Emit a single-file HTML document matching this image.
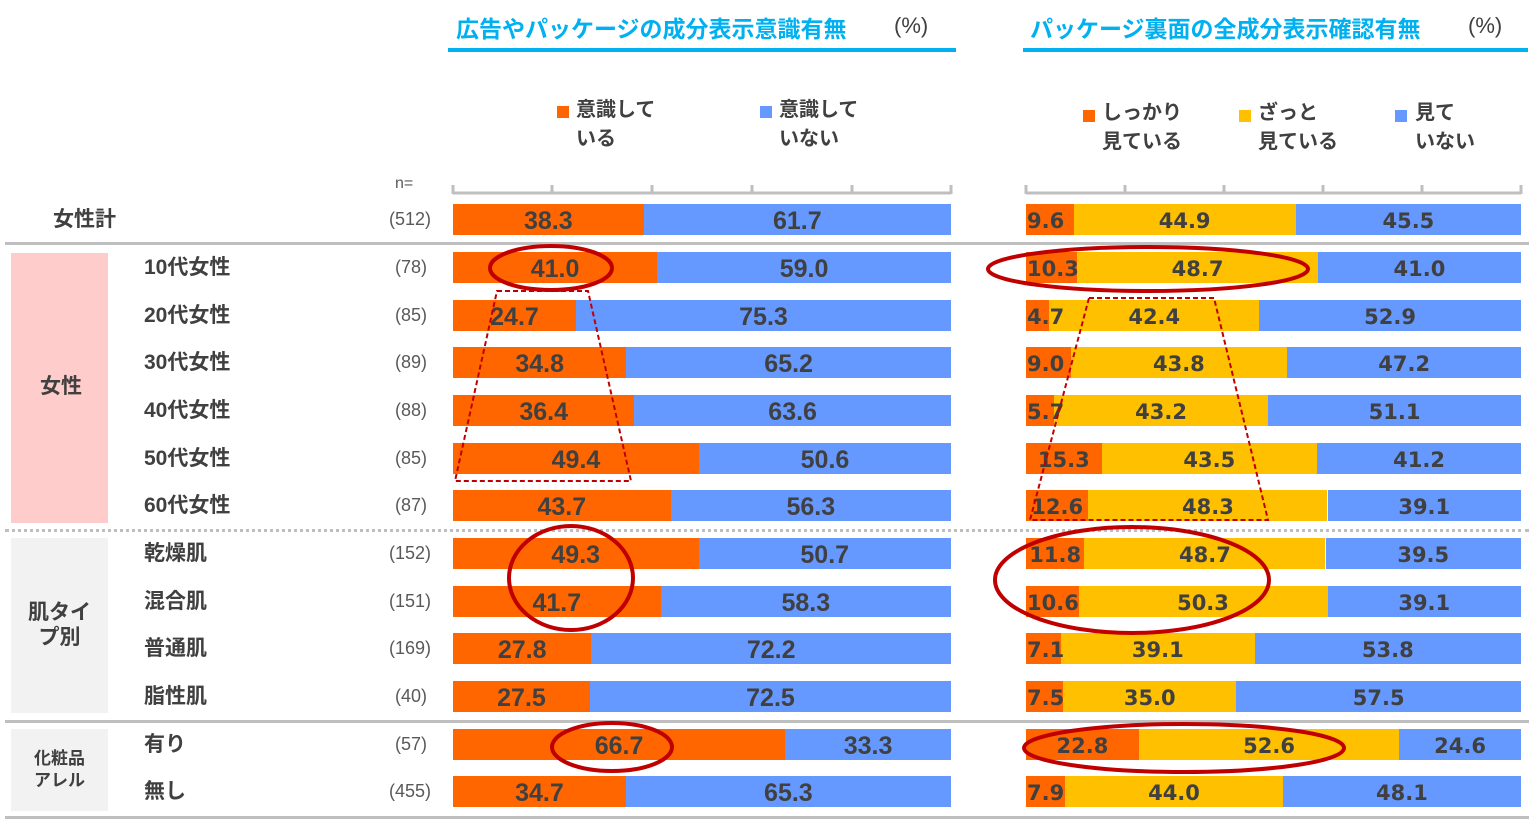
<!DOCTYPE html>
<html><head><meta charset="utf-8">
<style>
body{margin:0;width:1531px;height:820px;background:#fff;position:relative;overflow:hidden;font-family:"Liberation Sans","Noto Sans CJK JP",sans-serif;color:#404040}
.a{position:absolute}
.t{font-weight:bold;color:#00b0f0;font-size:23px;white-space:nowrap}
.lg{font-weight:bold;font-size:20px;line-height:29px;white-space:nowrap}
.sq{position:absolute;width:12px;height:12px}
.rl{position:absolute;font-weight:bold;font-size:21px;white-space:nowrap;line-height:24px}
.n{position:absolute;font-size:18px;color:#595959;text-align:right;width:80px;line-height:24px}
.seg{position:absolute;height:31px;line-height:34px;font-weight:bold;color:#404040;text-align:center;white-space:nowrap;overflow:visible}
.L{font-family:"Liberation Sans",sans-serif;font-size:25px}
.R{font-family:"DejaVu Sans",sans-serif;font-size:21px}
</style></head><body>
<div class="a t" style="left:456px;top:10px">広告やパッケージの成分表示意識有無</div>
<div class="a" style="left:894px;top:13px;font-size:22px;color:#404040">(%)</div>
<div class="a" style="left:448px;top:48px;width:508px;height:4px;background:#00b0f0"></div>
<div class="a t" style="left:1030px;top:10px">パッケージ裏面の全成分表示確認有無</div>
<div class="a" style="left:1468px;top:13px;font-size:22px;color:#404040">(%)</div>
<div class="a" style="left:1023px;top:48px;width:505px;height:4px;background:#00b0f0"></div>

<div class="sq" style="left:557px;top:106px;background:#ff6600"></div>
<div class="a lg" style="left:576px;top:96px">意識して<br>いる</div>
<div class="sq" style="left:760px;top:106px;background:#6699ff"></div>
<div class="a lg" style="left:779px;top:96px">意識して<br>いない</div>
<div class="sq" style="left:1083px;top:110px;background:#ff6600"></div>
<div class="a lg" style="left:1102px;top:99px">しっかり<br>見ている</div>
<div class="sq" style="left:1239px;top:110px;background:#ffc000"></div>
<div class="a lg" style="left:1258px;top:99px">ざっと<br>見ている</div>
<div class="sq" style="left:1395px;top:110px;background:#6699ff"></div>
<div class="a lg" style="left:1415px;top:99px">見て<br>いない</div>

<div class="a" style="left:395px;top:175px;font-size:16px;color:#595959">n=</div>

<div class="a" style="left:11px;top:253px;width:97px;height:270px;background:#ffcccc"></div>
<div class="a" style="left:11px;top:538px;width:97px;height:175px;background:#f2f2f2"></div>
<div class="a" style="left:11px;top:729px;width:97px;height:82px;background:#f2f2f2"></div>
<div class="rl" style="left:40px;top:375px">女性</div>
<div class="rl" style="left:11px;width:97px;text-align:center;top:600px;line-height:25px">肌タイ<br>プ別</div>
<div class="rl" style="left:11px;width:97px;text-align:center;top:748px;font-size:17px;line-height:22px">化粧品<br>アレル</div>

<div class="a" style="left:5px;top:242px;width:1524px;height:3px;background:#bfbfbf"></div>
<div class="a" style="left:5px;top:529px;width:1524px;border-top:3px dotted #bfbfbf"></div>
<div class="a" style="left:5px;top:720px;width:1524px;height:3px;background:#bfbfbf"></div>
<div class="a" style="left:5px;top:816px;width:1524px;height:3px;background:#bfbfbf"></div>

<svg class="a" style="left:0;top:0" width="1531" height="820">
<g stroke="#bfbfbf" stroke-width="3" fill="none">
<path d="M453,193H951M453,185V194M552,185V194M652,185V194M752,185V194M852,185V194M951,185V194"/>
<path d="M1026,193H1521M1026,185V194M1125,185V194M1224,185V194M1323,185V194M1422,185V194M1521,185V194"/>
</g>
</svg>

<div id="rows"></div>

<svg class="a" style="left:0;top:0;z-index:5" width="1531" height="820">
<g stroke="#c00000" stroke-width="4" fill="none">
<ellipse cx="551" cy="268" rx="61" ry="22"/>
<ellipse cx="1148" cy="269" rx="160" ry="22"/>
<ellipse cx="571" cy="578" rx="62" ry="52"/>
<ellipse cx="1132" cy="580" rx="137" ry="53"/>
<ellipse cx="612" cy="747" rx="60" ry="24"/>
<ellipse cx="1184" cy="748" rx="160" ry="24"/>
</g>
<g stroke="#c00000" stroke-width="2" stroke-dasharray="5,3" fill="none">
<path d="M497,291L588,291L631,481L455,481Z"/>
<path d="M1089,298L1214,298L1268,520L1030,520Z"/>
</g>
</svg>

<script>
var rows=[
["女性計","(512)",38.3,9.6,44.9,45.5,53],
["10代女性","(78)",41.0,10.3,48.7,41.0],
["20代女性","(85)",24.7,4.7,42.4,52.9],
["30代女性","(89)",34.8,9.0,43.8,47.2],
["40代女性","(88)",36.4,5.7,43.2,51.1],
["50代女性","(85)",49.4,15.3,43.5,41.2],
["60代女性","(87)",43.7,12.6,48.3,39.1],
["乾燥肌","(152)",49.3,11.8,48.7,39.5],
["混合肌","(151)",41.7,10.6,50.3,39.1],
["普通肌","(169)",27.8,7.1,39.1,53.8],
["脂性肌","(40)",27.5,7.5,35.0,57.5],
["有り","(57)",66.7,22.8,52.6,24.6],
["無し","(455)",34.7,7.9,44.0,48.1]];
var tops=[204,252,300,347,395,443,490,538,586,633,681,729,776];
var h="";
function seg(x,w,c,v,cls,left){
 var st="left:"+x.toFixed(1)+"px;top:"+T+"px;width:"+w.toFixed(1)+"px;background:"+c+";";
 var txt=v.toFixed(1);
 if(left){return '<div class="seg '+cls+'" style="'+st+'"></div><div class="seg '+cls+'" style="left:'+(x+1)+'px;top:'+T+'px;text-align:left;z-index:2">'+txt+'</div>';}
 return '<div class="seg '+cls+'" style="'+st+'">'+txt+'</div>';
}
var T;
rows.forEach(function(r,i){
 T=tops[i];
 var lx=r[6]||144;
 h+='<div class="rl" style="left:'+lx+'px;top:'+(T+4)+'px">'+r[0]+'</div>';
 h+='<div class="n" style="left:'+(r[1].length>4?351:347)+'px;top:'+(T+3)+'px">'+r[1]+'</div>';
 var W=498,x0=453,a=r[2]/100*W;
 h+=seg(x0,a,"#ff6600",r[2],"L");
 h+=seg(x0+a,W-a,"#6699ff",100-r[2],"L");
 var W2=495,x2=1026,o=r[3]/100*W2,y=r[4]/100*W2,b=W2-o-y;
 h+=seg(x2,o,"#ff6600",r[3],"R",o<55);
 h+=seg(x2+o,y,"#ffc000",r[4],"R");
 h+=seg(x2+o+y,b,"#6699ff",r[5],"R");
});
document.getElementById("rows").innerHTML=h;
</script>
</body></html>
